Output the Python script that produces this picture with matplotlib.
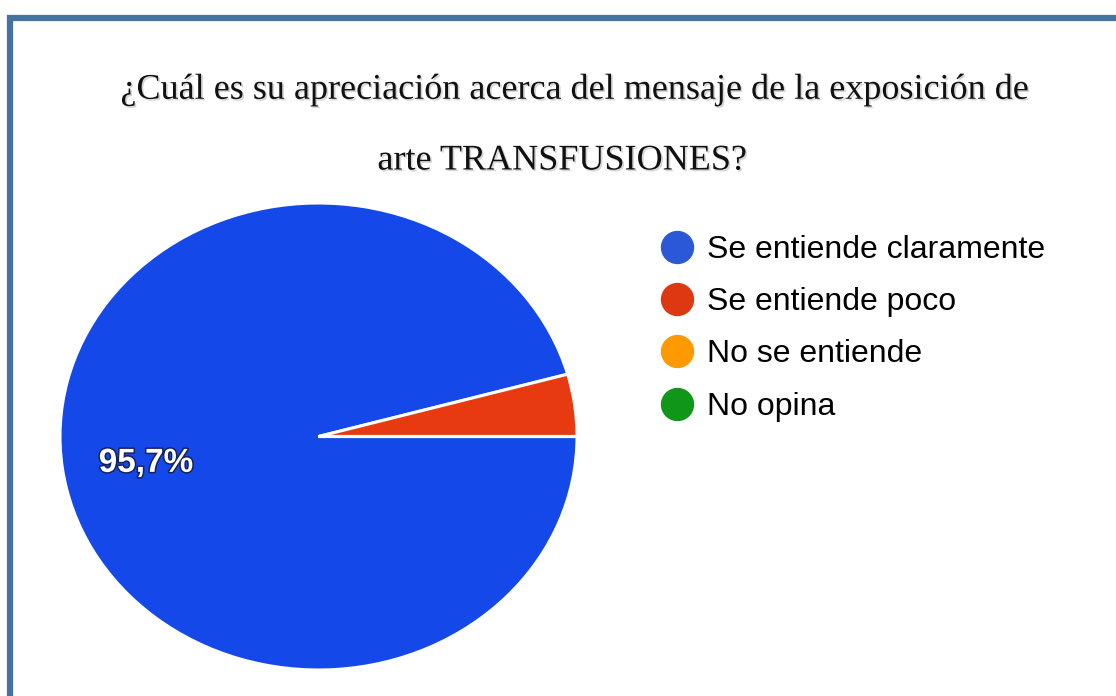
import matplotlib
matplotlib.use('Agg')

import matplotlib.pyplot as plt
import matplotlib.patheffects as pe
from matplotlib.lines import Line2D
from matplotlib.patches import Rectangle

# datos de la encuesta
categorias = ["Se entiende claramente", "Se entiende poco", "No se entiende", "No opina"]
porcentajes = [95.7, 4.3, 0.0, 0.0]
colores_pie = ["#1448e8", "#e83a10", "#ff9900", "#109618"]
colores_leyenda = ["#2a58d6", "#dc3912", "#ff9900", "#109618"]

titulo_1 = "¿Cuál es su apreciación acerca del mensaje de la exposición de"
titulo_2 = "arte TRANSFUSIONES?"

fig = plt.figure(figsize=(11.16, 6.96), dpi=100)
fig.patch.set_facecolor("white")

# marco azul (derecha e inferior quedan fuera del recorte)
fig.add_artist(Rectangle((10 / 1116, -0.2), 1.2, (696 - 18) / 696 + 0.2,
                         transform=fig.transFigure, fill=False,
                         edgecolor="#44739f", linewidth=4.5))

sombra = [pe.SimplePatchShadow(offset=(1.2, -1.2), shadow_rgbFace="#888888", alpha=0.35),
          pe.Normal()]
estilo_titulo = dict(ha="center", va="center", fontsize=26, family="Liberation Serif",
                     color="#111111", path_effects=sombra)
fig.text(574 / 1116, 1 - 90 / 696, titulo_1, **estilo_titulo)
fig.text(562 / 1116, 1 - 161 / 696, titulo_2, **estilo_titulo)

# pastel (estirado horizontalmente como en la imagen original)
ax = fig.add_axes([60 / 1116, 26 / 696, 517 / 1116, 467 / 696])
wedges, _ = ax.pie(porcentajes, colors=colores_pie, startangle=0, counterclock=False,
                   wedgeprops=dict(edgecolor="white", linewidth=2.2))
ax.set_aspect("auto")
ax.set_xlim(-1, 1)
ax.set_ylim(-1, 1)

ax.text(-0.667, -0.115, f"{porcentajes[0]:.1f}%".replace(".", ","), ha="center", va="center",
        fontsize=24, fontweight="bold", color="white", family="Liberation Sans",
        path_effects=[pe.withStroke(linewidth=2.2, foreground="#14245a")])

handles = [Line2D([], [], linestyle="none", marker="o", markersize=23,
                  markerfacecolor=c, markeredgecolor=c) for c in colores_leyenda]
fig.legend(handles, categorias, loc="upper left", bbox_to_anchor=(645 / 1116, 1 - 222 / 696),
           frameon=False, prop={"family": "Liberation Sans", "size": 23},
           labelspacing=0.7, handletextpad=0.35, handlelength=1.2, borderaxespad=0)

fig.savefig("out.png", dpi=100)
plt.close(fig)
